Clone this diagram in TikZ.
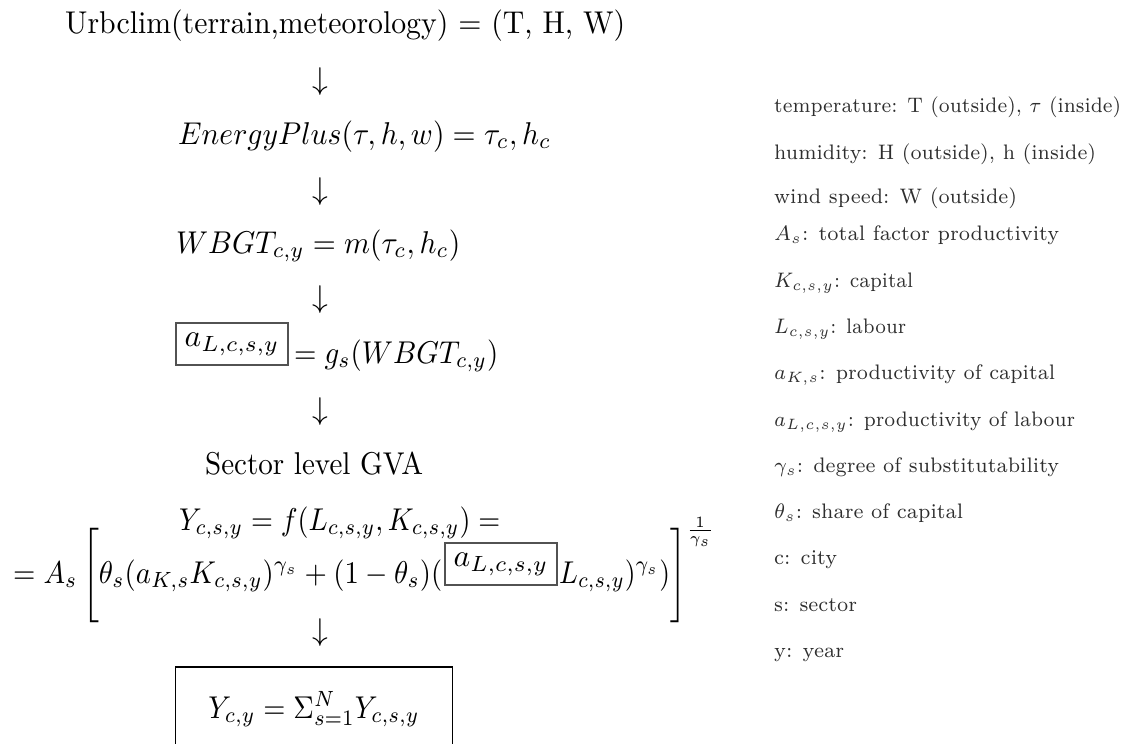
\RequirePackage{fix-cm}
\documentclass[tikz,border=0pt]{standalone}
\usepackage{graphicx}
\newcommand{\mt}[2]{\resizebox{#1pt}{3.15\height}{\fontsize{10}{12}\selectfont #2}}
\newcommand{\bigtxt}[1]{\scalebox{3.15}{\fontsize{10}{12}\selectfont #1}}
\newcommand{\st}[2]{\resizebox{#1pt}{3\height}{\fontsize{7}{8.5}\selectfont #2}}
\newcommand{\brk}{\vrule height 17pt depth 12pt width 0pt}
\newcommand{\lbrk}{\mathopen{\hbox{$\left[\brk\right.\nulldelimiterspace=0pt\relax$}}}
\newcommand{\rbrk}{\mathclose{\hbox{$\left.\brk\right]\nulldelimiterspace=0pt\relax$}}}
\begin{document}
\begin{tikzpicture}[x=1pt,y=-1pt,
  main/.style={inner sep=0pt, text=black, anchor=base west},
  side/.style={inner sep=0pt, text=black!82, anchor=base west},
  arr/.style={inner sep=0pt},
  abox/.style={draw=black!68, line width=1.1pt, inner sep=0pt, minimum width=112, minimum height=42},
  totbox/.style={draw=black, line width=1.1pt, inner sep=0pt, minimum width=277, anchor=base, text height=51, text depth=60}]
\useasboundingbox (0,0) rectangle (1133,744);
% main chain
\node[main] (urb) at (65,34) {\mt{560}{Urbclim(terrain,meteorology) $=$ (T, H, W)}};
\node[arr] (d1) at (320,82) {\bigtxt{$\downarrow$}};
\node[main] (ep) at (178,144) {\mt{373}{$EnergyPlus(\tau,h,w)=\tau_c,h_c$}};
\node[arr] (d2) at (320,192) {\bigtxt{$\downarrow$}};
\node[main] (wb) at (176,253) {\mt{284}{$WBGT_{c,y}=m(\tau_c,h_c)$}};
\node[arr] (d3) at (320,300) {\bigtxt{$\downarrow$}};
\node[abox] (aL1) at (232,344) {\bigtxt{$a_{L,c,s,y}$}};
\node[main] (g) at (294,363) {\mt{204}{$= g_s(WBGT_{c,y})$}};
\node[arr] (d4) at (320,412) {\bigtxt{$\downarrow$}};
\node[main] (gva) at (205,474) {\mt{218}{Sector level GVA}};
\node[main] (f) at (179,530) {\mt{321}{$Y_{c,s,y}=f(L_{c,s,y},K_{c,s,y})=$}};
\node[main] (ces1) at (13,583) {\mt{429}{$=A_s\,\lbrk\theta_s(a_{K,s}K_{c,s,y})^{\gamma_s}+(1-\theta_s)($}};
\node[abox] (aL2) at (501,564) {\bigtxt{$a_{L,c,s,y}$}};
\node[main] (ces2) at (559,583) {\mt{156}{$L_{c,s,y})^{\gamma_s})\rbrk^{\frac{1}{\gamma_s}}$}};
\node[arr] (d5) at (320,633) {\bigtxt{$\downarrow$}};
\node[totbox] (tot) at (314,718) {\mt{211}{$Y_{c,y}=\Sigma_{s=1}^{N}Y_{c,s,y}$}};
% legend
\node[side] (l1) at (774,112) {\st{347}{temperature: T (outside), $\tau$ (inside)}};
\node[side] (l2) at (774,159) {\st{322}{humidity: H (outside), h (inside)}};
\node[side] (l3) at (774,203) {\st{243}{wind speed: W (outside)}};
\node[side] (l4) at (774,240) {\st{285}{$A_s$: total factor productivity}};
\node[side] (l5) at (774,287) {\st{139}{$K_{c,s,y}$: capital}};
\node[side] (l6) at (774,333) {\st{132}{$L_{c,s,y}$: labour}};
\node[side] (l7) at (774,379) {\st{281}{$a_{K,s}$: productivity of capital}};
\node[side] (l8) at (774,426) {\st{301}{$a_{L,c,s,y}$: productivity of labour}};
\node[side] (l9) at (774,472) {\st{285}{$\gamma_s$: degree of substitutability}};
\node[side] (l10) at (774,518) {\st{189}{$\theta_s$: share of capital}};
\node[side] (l11) at (774,564) {\st{63}{c: city}};
\node[side] (l12) at (774,611) {\st{83}{s: sector}};
\node[side] (l13) at (774,657) {\st{70}{y: year}};
\end{tikzpicture}
\end{document}
